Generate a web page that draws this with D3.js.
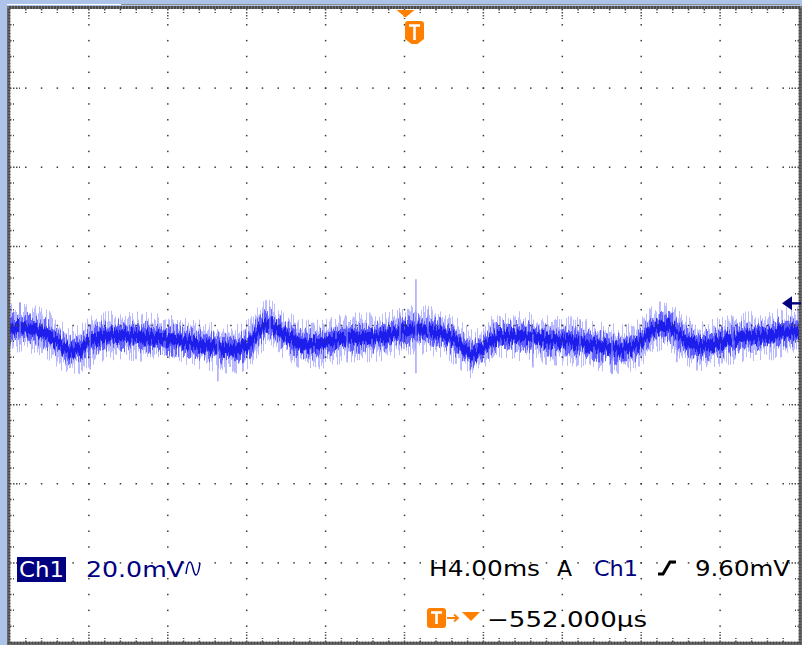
<html>
<head>
<meta charset="utf-8">
<script src="https://d3js.org/d3.v7.min.js"></script>
<style>
  body { margin: 0; background: #adc3ea; }
  svg { display: block; }
  text { font-family: "DejaVu Sans", sans-serif; font-size: 22px; }
</style>
</head>
<body>
<svg width="802" height="645"></svg>
<script>
// trace: time (ms, trigger at 0) and level (mV from ground marker)
var times = [-20, -19.49, -18.83, -18.48, -17.97, -17.47, -16.96, -16.45, -15.94, -15.44,
  -14.58, -13.76, -12.9, -12.04, -11.23, -10.37, -9.51, -8.69, -7.83, -7.33,
  -6.92, -6.31, -5.65, -5.3, -4.44, -3.62, -2.76, -1.9, -1.09, -0.23,
  0.63, 1.44, 2.31, 2.81, 3.17, 3.47, 3.98, 4.33, 4.84, 5.7,
  6.51, 7.38, 8.54, 9.4, 10.27, 11.08, 11.94, 12.45, 12.95, 13.46,
  13.97, 14.47, 14.98, 15.84, 16.65, 17.52, 18.38, 19.19, 20];
var volts = [-6.3, -6.1, -6.6, -7.1, -8.3, -10.4, -12.1, -11.6, -9.6, -8.6,
  -8.1, -8.3, -8.6, -9.1, -9.6, -10.4, -11.1, -11.6, -9.9, -6.6,
  -5.3, -7.1, -9.1, -10.1, -10.4, -9.6, -8.6, -8.6, -8.3, -7.3,
  -6.6, -7.1, -8.6, -10.4, -12.1, -12.9, -11.6, -9.9, -8.3, -8.3,
  -8.6, -9.4, -9.6, -10.4, -11.1, -11.6, -9.9, -7.3, -5.8, -6.1,
  -8.3, -9.9, -10.9, -9.9, -9.1, -8.3, -8.3, -7.3, -7.1];

// single noise spikes: time, top, bottom (mV)
var spikeTimes = [-19.49, -15.94, -9.46, -6.82, -2.91, -0.23, 0.58, 1.19, 6.51, 8.9, 10.52, 13.81, 16.65];
var spikeHigh  = [0.3, -6.6, -9.1, -0.8, -6.6, -2.3, 6.1, -1.5, -7.8, -4.0, -9.1, -7.8, -3.3];
var spikeLow   = [-10.4, -16.7, -19.7, -7.8, -14.9, -9.1, -17.7, -7.8, -16.2, -10.4, -17.9, -14.9, -10.4];

var timeDomain = [-20, 20];          // 4.00 ms/div, 10 divisions
var voltDomain = [-85.6, 74.4];      // 20.0 mV/div, 8 divisions, ground marker offset
var groundLevel = 0;

var svg = d3.select("svg");
var x = d3.scaleLinear().domain(timeDomain).range([10, 799]);
var y = d3.scaleLinear().domain(voltDomain).range([642, 9]);
var msPerDiv = 4, mvPerDiv = 20;

// window strip
svg.append("line").attr("x1", 7).attr("x2", 121).attr("y1", 4.5).attr("y2", 4.5).attr("stroke", "#fff");
svg.append("line").attr("x1", 121).attr("x2", 800).attr("y1", 4.5).attr("y2", 4.5).attr("stroke", "#8f8f8f");

svg.append("rect").attr("x", 7).attr("y", 6).attr("width", 795).attr("height", 639).attr("fill", "#7a7a7a");
svg.append("rect").attr("x", 10).attr("y", 9).attr("width", 789).attr("height", 633).attr("fill", "#fff");

var defs = svg.append("defs");
defs.append("clipPath").attr("id", "plot")
  .append("rect").attr("x", 10).attr("y", 9).attr("width", 789).attr("height", 633);

function fuzz(id, seed, freq, amount) {
  var f = defs.append("filter").attr("id", id)
    .attr("filterUnits", "userSpaceOnUse")
    .attr("x", 0).attr("y", 0).attr("width", 802).attr("height", 645)
    .attr("color-interpolation-filters", "sRGB");
  f.append("feTurbulence").attr("type", "fractalNoise")
    .attr("baseFrequency", freq + " 0.012").attr("numOctaves", 2)
    .attr("seed", seed).attr("result", "n");
  f.append("feColorMatrix").attr("in", "n").attr("type", "matrix")
    .attr("values", "3 0 0 0 -1  0 0 0 0 0.5  0 0 1 0 0  0 0 0 0 1").attr("result", "m");
  f.append("feDisplacementMap").attr("in", "SourceGraphic").attr("in2", "m")
    .attr("scale", amount).attr("xChannelSelector", "G").attr("yChannelSelector", "R");
}
fuzz("fz1", 2, 0.8, 18);
fuzz("fz2", 7, 0.6, 12);
fuzz("fz3", 11, 0.45, 8);

var trace = svg.append("g").attr("clip-path", "url(#plot)");
var pts = times.map(function (t, i) { return [t, volts[i]]; });

function band(half) {
  return d3.area()
    .x(function (d) { return x(d[0]); })
    .y0(function (d) { return y(d[1] - half); })
    .y1(function (d) { return y(d[1] + half); })
    .curve(d3.curveMonotoneX);
}
trace.append("g").attr("filter", "url(#fz1)")
  .append("path").datum(pts).attr("d", band(4.0)).attr("fill", "#8c8cff").attr("opacity", 0.6);
trace.append("g").attr("filter", "url(#fz2)")
  .append("path").datum(pts).attr("d", band(2.6)).attr("fill", "#3c3cff").attr("opacity", 0.75);
trace.append("g").attr("filter", "url(#fz3)")
  .append("path").datum(pts).attr("d", band(1.4)).attr("fill", "#1616ea").attr("opacity", 0.9);

trace.selectAll(".spike").data(spikeTimes).enter().append("line")
  .attr("class", "spike")
  .attr("x1", function (d) { return x(d); }).attr("x2", function (d) { return x(d); })
  .attr("y1", function (d, i) { return y(spikeHigh[i]); })
  .attr("y2", function (d, i) { return y(spikeLow[i]); })
  .attr("stroke", "#8c8cff").attr("stroke-width", 1.4).attr("opacity", 0.85);

// graticule
var grid = svg.append("g").attr("fill", "#3a3a3a");
var tMajor = d3.range(timeDomain[0] + msPerDiv, timeDomain[1] - 0.01, msPerDiv);
var tMinor = d3.range(timeDomain[0] + msPerDiv / 5, timeDomain[1] - 0.01, msPerDiv / 5);
var v0 = voltDomain[0];
var vMajor = d3.range(v0 + mvPerDiv, voltDomain[1] - 0.01, mvPerDiv);
var vMinor = d3.range(v0 + mvPerDiv / 5, voltDomain[1] - 0.01, mvPerDiv / 5);

tMajor.forEach(function (t) {
  grid.selectAll(null).data(vMinor).enter().append("rect")
    .attr("x", x(t) - 0.75).attr("y", function (v) { return y(v) - 0.75; })
    .attr("width", 1.5).attr("height", 1.5);
});
vMajor.forEach(function (v) {
  grid.selectAll(null).data(tMinor).enter().append("rect")
    .attr("x", function (t) { return x(t) - 0.75; }).attr("y", y(v) - 0.75)
    .attr("width", 1.5).attr("height", 1.5);
});

// border with ticks
var frame = svg.append("g").attr("stroke", "#4a4a4a").attr("stroke-width", 1.5).attr("stroke-dasharray", "1.5 1.5");
frame.append("rect").attr("x", 9).attr("y", 7.5).attr("width", 791).attr("height", 635.5)
  .attr("fill", "none").attr("stroke-width", 3).attr("stroke-dasharray", "2 1");
function isMajor(val, start, step) { return Math.abs(((val - start) / step) - Math.round((val - start) / step)) < 0.01; }
tMinor.forEach(function (t) {
  var len = isMajor(t, timeDomain[0], msPerDiv) ? 10 : 4;
  frame.append("line").attr("x1", x(t)).attr("x2", x(t)).attr("y1", 9).attr("y2", 9 + len);
  frame.append("line").attr("x1", x(t)).attr("x2", x(t)).attr("y1", 642).attr("y2", 642 - len);
});
vMinor.forEach(function (v) {
  var len = isMajor(v, v0, mvPerDiv) ? 10 : 4;
  frame.append("line").attr("y1", y(v)).attr("y2", y(v)).attr("x1", 10).attr("x2", 10 + len);
  frame.append("line").attr("y1", y(v)).attr("y2", y(v)).attr("x1", 799).attr("x2", 799 - len);
});

// trigger position marker
var tx = x(0) + 1;
svg.append("path").attr("d", "M" + (tx - 9) + ",10 L" + (tx + 9) + ",10 L" + tx + ",17.5 Z").attr("fill", "#ff8000");
function tBadge(cx, top, w, h, pointed) {
  var l = cx - w / 2, r = cx + w / 2, b = top + h, rr = 3;
  var d = "M" + l + "," + (top + rr) + " Q" + l + "," + top + " " + (l + rr) + "," + top +
    " L" + (r - rr) + "," + top + " Q" + r + "," + top + " " + r + "," + (top + rr);
  d += pointed ? " L" + r + "," + (b - 5) + " L" + (cx + 3) + "," + b + " L" + (cx - 3) + "," + b + " L" + l + "," + (b - 5) + " Z"
               : " L" + r + "," + (b - rr) + " Q" + r + "," + b + " " + (r - rr) + "," + b +
                 " L" + (l + rr) + "," + b + " Q" + l + "," + b + " " + l + "," + (b - rr) + " Z";
  svg.append("path").attr("d", d).attr("fill", "#ff8000");
  svg.append("path")
    .attr("d", "M" + (cx - 5.5) + "," + (top + 4.5) + " L" + (cx + 5.5) + "," + (top + 4.5) + " M" + cx + "," + (top + 4.5) + " L" + cx + "," + (top + h - 4))
    .attr("stroke", "#fff").attr("stroke-width", 2.6).attr("fill", "none");
}
tBadge(414.5, 21, 19, 23, true);

// ground level marker
var gy = y(groundLevel);
svg.append("path").attr("d", "M782," + gy + " L792," + (gy - 7) + " L792," + (gy + 7) + " Z").attr("fill", "#000080");
svg.append("line").attr("x1", 790).attr("x2", 801).attr("y1", gy).attr("y2", gy).attr("stroke", "#000080").attr("stroke-width", 2.4);

// readouts
svg.append("rect").attr("x", 17).attr("y", 557).attr("width", 49).attr("height", 25).attr("fill", "#000080");
svg.append("text").attr("x", 19).attr("y", 577).attr("fill", "#fff").attr("textLength", 45).attr("lengthAdjust", "spacingAndGlyphs").text("Ch1");
svg.append("text").attr("x", 86).attr("y", 577).attr("fill", "#000080").attr("textLength", 98).attr("lengthAdjust", "spacingAndGlyphs").text("20.0mV");
svg.append("path").attr("d", "M186,574 C187,566 188,562 190,562 C193,562 193,575 196,575 C198,575 199,570 200,563")
  .attr("fill", "none").attr("stroke", "#000080").attr("stroke-width", 1.5);

svg.append("text").attr("x", 429).attr("y", 576).attr("fill", "#000").attr("textLength", 111).attr("lengthAdjust", "spacingAndGlyphs").text("H4.00ms");
svg.append("text").attr("x", 557).attr("y", 576).attr("fill", "#000").text("A");
svg.append("text").attr("x", 594).attr("y", 576).attr("fill", "#000080").attr("textLength", 44).attr("lengthAdjust", "spacingAndGlyphs").text("Ch1");
svg.append("path").attr("d", "M658,574 L663,574 L670,562 L676,562")
  .attr("fill", "none").attr("stroke", "#000").attr("stroke-width", 3);
svg.append("text").attr("x", 695).attr("y", 576).attr("fill", "#000").attr("textLength", 95).attr("lengthAdjust", "spacingAndGlyphs").text("9.60mV");

tBadge(436.5, 608, 19, 20, false);
svg.append("path").attr("d", "M447,618 L458,618 M454,614.5 L458,618 L454,621.5")
  .attr("fill", "none").attr("stroke", "#ff8000").attr("stroke-width", 1.8);
svg.append("path").attr("d", "M462,612 L480,612 L471,621 Z").attr("fill", "#ff8000");
svg.append("text").attr("x", 487).attr("y", 627).attr("fill", "#000").attr("textLength", 160).attr("lengthAdjust", "spacingAndGlyphs").text("\u2212552.000\u00b5s");
</script>
</body>
</html>
